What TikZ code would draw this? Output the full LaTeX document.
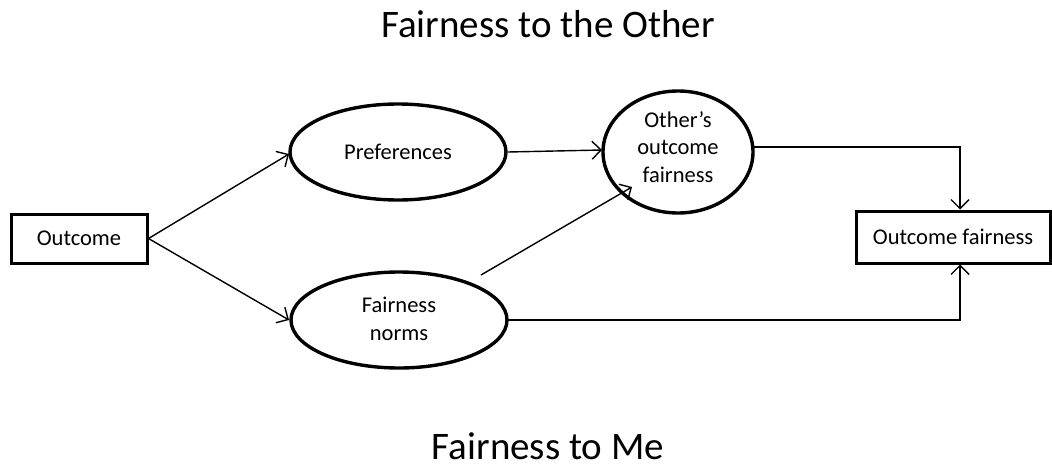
\documentclass[tikz,border=0pt]{standalone}
\usepackage{fontspec}
\setmainfont{Carlito}
\usetikzlibrary{arrows.meta}
\begin{document}
\begin{tikzpicture}[x=1pt,y=-1pt,
  lbl/.style={font=\fontsize{22.5}{27.5}\selectfont, align=center},
  boxn/.style={lbl, draw, line width=3pt, inner sep=0pt},
  arr/.style={line width=1.4pt, -{Straight Barb[length=9pt,width=18pt]}},
  ttl/.style={font=\fontsize{39}{46}\selectfont, anchor=base, inner sep=0pt}]
\useasboundingbox (0,0) rectangle (1052,466);
\node[ttl] (t1) at (548,37) {Fairness to the Other};
\node[ttl] (t2) at (548,459) {Fairness to Me};
\node[boxn, minimum width=136pt, minimum height=49pt] (out) at (79,238.5) {Outcome};
\node[boxn, minimum width=194pt, minimum height=52pt] (of) at (953,237) {Outcome fairness};
\draw[line width=3.4pt] (398,152) ellipse [x radius=108, y radius=48];
\node[lbl] (pref) at (398,152) {Preferences};
\draw[line width=3.4pt] (399,320) ellipse [x radius=108, y radius=48];
\node[lbl] (fn) at (399,319) {Fairness\\norms};
\draw[line width=3.4pt] (678,152) ellipse [x radius=75, y radius=61];
\node[lbl] (oof) at (678,147) {Other's\\outcome\\fairness};
\coordinate (prefW) at (289,154);
\coordinate (prefE) at (508,152);
\coordinate (fnW) at (289,320);
\coordinate (fnE) at (508,320);
\coordinate (fnNE) at (481,275);
\coordinate (oofW) at (602,150);
\coordinate (oofSW) at (632,187);
\coordinate (oofE) at (753,147);
\draw[arr] (out.east) -- (prefW);
\draw[arr] (out.east) -- (fnW);
\draw[arr] (prefE) -- (oofW);
\draw[arr] (fnNE) -- (oofSW);
\draw[arr] (oofE) -| (of.north -| 960,0);
\draw[arr] (fnE) -| (of.south -| 960,0);
\end{tikzpicture}
\end{document}
